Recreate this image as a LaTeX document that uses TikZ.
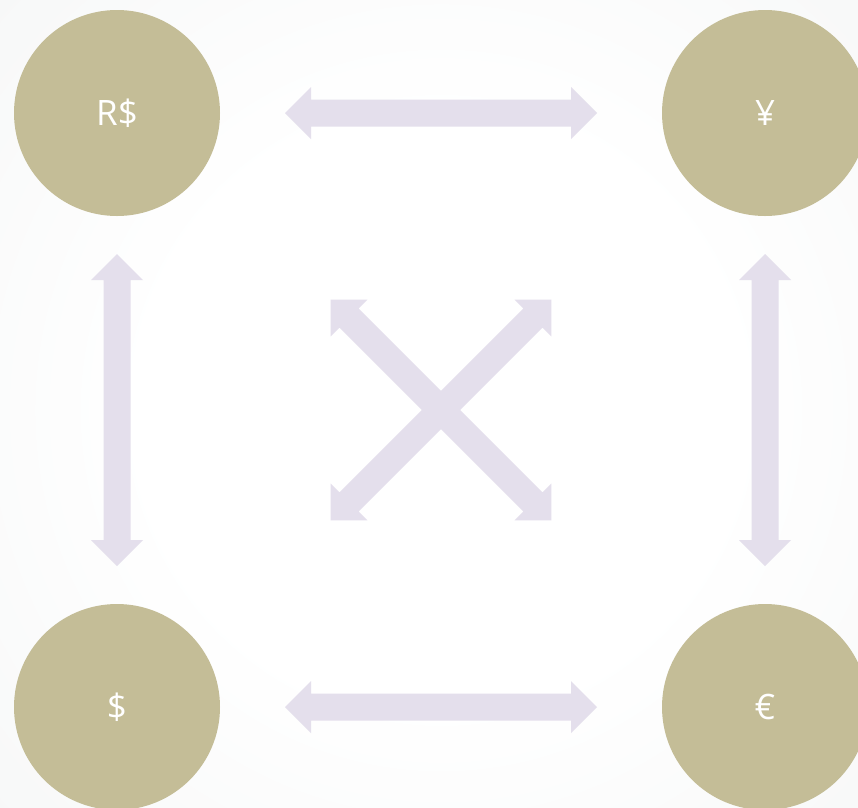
\documentclass[tikz,border=0pt]{standalone}
\usepackage{fontspec}
\setmainfont{Open Sans}
\usetikzlibrary{calc}

\definecolor{coinfill}{HTML}{C4BD97}
\definecolor{arrowfill}{HTML}{E4DFEC}
\definecolor{bgedge}{HTML}{EEEFF0}
\definecolor{bgmid}{HTML}{F7F8F8}

% soft glow behind the diagram
\pgfdeclareradialshading{bgglow}{\pgfpoint{0bp}{0bp}}{%
  color(0bp)=(white); color(12bp)=(white); color(25bp)=(bgmid);
  color(50bp)=(bgedge)}

% block double arrow of fixed size, centred at #1 and turned by #2 degrees
\newcommand\swaparrow[2]{%
  \fill[arrowfill, shift={(#1)}, rotate=#2]
    (-156,0) -- (-130,-26) -- (-130,-13.5) -- (130,-13.5) -- (130,-26)
    -- (156,0) -- (130,26) -- (130,13.5) -- (-130,13.5) -- (-130,26) -- cycle;}

\begin{document}
\begin{tikzpicture}[x=1pt, y=-1pt,
  coin/.style={circle, fill=coinfill, minimum size=206pt, inner sep=0pt,
    text=white, font=\fontsize{35}{40}\selectfont}]
  \useasboundingbox (0,0) rectangle (858,807);

  % background
  \begin{scope}
    \clip (0,0) rectangle (858,807);
    \shade[shading=bgglow] (441,410) circle[radius=610];
  \end{scope}

  % currencies
  \node[coin] (rs)   at (117,113) {R\$};
  \node[coin] (yen)  at (765,113) {¥};
  \node[coin] (usd)  at (117,707) {\$};
  \node[coin] (euro) at (765,707) {€};

  % exchange arrows between every pair
  \swaparrow{$(rs)!0.5!(yen)$}{0}
  \swaparrow{$(usd)!0.5!(euro)$}{0}
  \swaparrow{$(rs)!0.5!(usd)$}{90}
  \swaparrow{$(yen)!0.5!(euro)$}{90}
  \swaparrow{$(rs)!0.5!(euro)$}{45}
  \swaparrow{$(yen)!0.5!(usd)$}{-45}
\end{tikzpicture}
\end{document}
